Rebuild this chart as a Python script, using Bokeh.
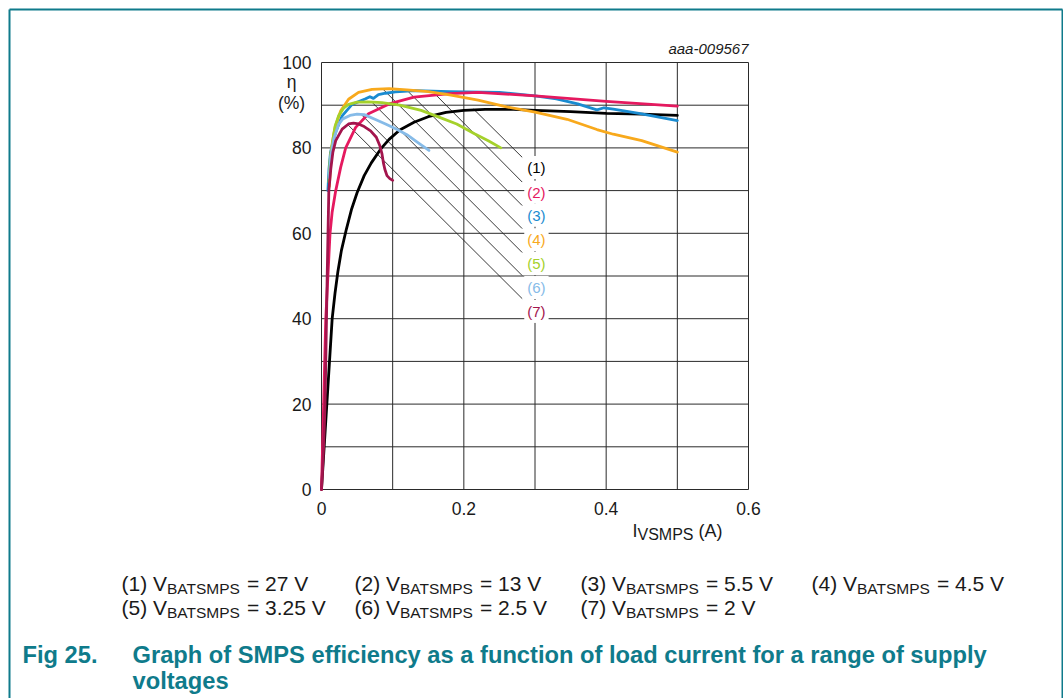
from bokeh.plotting import figure
from bokeh.models import Range1d, Label, ColumnDataSource
from bokeh.embed import file_html
from bokeh.resources import INLINE
from bokeh.core.properties import value

# ---------------- data ----------------
x_tick_values = [0, 0.2, 0.4, 0.6]
x_tick_labels = ["0", "0.2", "0.4", "0.6"]
y_tick_values = [0, 20, 40, 60, 80, 100]
y_tick_labels = ["0", "20", "40", "60", "80", "100"]
x_grid_values = [0, 0.1, 0.2, 0.3, 0.4, 0.5, 0.6]
y_grid_values = [0, 10, 20, 30, 40, 50, 60, 70, 80, 90, 100]

series_ids = ["(1)", "(2)", "(3)", "(4)", "(5)", "(6)", "(7)"]
vbat_labels = ["27 V", "13 V", "5.5 V", "4.5 V", "3.25 V", "2.5 V", "2 V"]

# (1) VBATSMPS = 27 V
i_27 = [0, 0.003, 0.006, 0.009, 0.012, 0.015, 0.019, 0.023, 0.028, 0.035, 0.042,
        0.05, 0.06, 0.07, 0.083, 0.095, 0.11, 0.13, 0.15, 0.175, 0.2, 0.23,
        0.27, 0.3, 0.35, 0.4, 0.45, 0.5]
eff_27 = [0, 8, 16, 24, 32, 40, 46, 51, 56, 61, 65.5,
          69.5, 73.5, 76.5, 79.7, 82, 84.2, 86, 87.3, 88.3, 88.8, 89.0,
          89.0, 88.8, 88.5, 88.1, 87.9, 87.6]
# (2) 13 V
i_13 = [0, 0.003, 0.006, 0.009, 0.012, 0.015, 0.02, 0.027, 0.034, 0.048, 0.066,
        0.095, 0.13, 0.18, 0.22, 0.3, 0.4, 0.5]
eff_13 = [0, 20, 40, 50, 60, 65, 70, 75.5, 80, 84.8, 88,
          90.3, 91.9, 92.7, 93.0, 92.2, 90.9, 89.8]
# (3) 5.5 V
i_55 = [0.009, 0.0105, 0.0126, 0.0197, 0.029, 0.043, 0.062, 0.068, 0.073, 0.08,
        0.09, 0.104, 0.132, 0.18, 0.25, 0.3, 0.33, 0.36, 0.387, 0.397, 0.41, 0.448, 0.5]
eff_55 = [70, 75, 78.9, 83.6, 87.5, 90.2, 91.5, 92.0, 91.6, 92.5,
          92.8, 93.1, 93.4, 93.2, 93.0, 92.2, 91.5, 90.3, 88.9, 89.4, 89.1, 88.0, 86.4]
# (4) 4.5 V
i_45 = [0.011, 0.0125, 0.0136, 0.017, 0.0197, 0.027, 0.038, 0.052, 0.071, 0.095,
        0.12, 0.15, 0.18, 0.22, 0.26, 0.3, 0.345, 0.387, 0.41, 0.45, 0.5]
eff_45 = [71, 75, 79, 83, 85.2, 88.7, 91.4, 93, 93.7, 93.9,
          93.6, 93.2, 92.4, 91.2, 89.6, 88.4, 86.7, 84.3, 83.2, 81.7, 79]
# (5) 3.25 V
i_325 = [0.0105, 0.012, 0.015, 0.019, 0.024, 0.031, 0.038, 0.05, 0.065, 0.085,
         0.11, 0.14, 0.165, 0.19, 0.215, 0.235, 0.252]
eff_325 = [72, 77, 81, 85, 87.5, 89.3, 90.2, 90.7, 90.8, 90.6,
           90.0, 88.8, 87.2, 85.6, 83.3, 81.6, 80.0]
# (6) 2.5 V
i_25 = [0.011, 0.013, 0.017, 0.024, 0.03, 0.04, 0.05, 0.06, 0.075, 0.09,
        0.105, 0.12, 0.135, 0.151]
eff_25 = [73, 78, 82, 85.5, 86.8, 87.6, 87.9, 87.8, 86.7, 85.6,
          84.4, 83.1, 81.3, 79.4]
# (7) 2 V
i_2 = [0, 0.003, 0.005, 0.008, 0.0103, 0.013, 0.016, 0.02, 0.029, 0.038, 0.045,
       0.052, 0.06, 0.069, 0.077, 0.082, 0.085, 0.087, 0.089, 0.092, 0.096, 0.1]
eff_2 = [0, 10, 20, 50, 70, 75, 79, 81.7, 84.4, 85.6, 85.8,
         85.6, 85, 84, 82.5, 80.5, 78.6, 76.5, 75, 73.5, 72.8, 72.4]

currents = [i_27, i_13, i_55, i_45, i_325, i_25, i_2]
efficiencies = [eff_27, eff_13, eff_55, eff_45, eff_325, eff_25, eff_2]

# callout leader lines (data units) and label positions
leader_start_i = [0.2136, 0.159, 0.1218, 0.0867, 0.0703, 0.0548, 0.036]
leader_start_eff = [89.1, 92.7, 93.2, 93.7, 90.8, 88.0, 85.6]
leader_end_i = 0.282
leader_end_eff = [77.8, 72.0, 66.5, 61.1, 55.5, 50.1, 44.7]
callout_i = 0.302
callout_eff = [75.4, 69.6, 64.2, 58.5, 52.9, 47.3, 41.7]

# ---------------- style / layout ----------------
colors = ["#000000", "#e5195f", "#1a8bd0", "#f8a91c", "#a5d12b", "#86bbe8", "#a3154d"]
TEAL = "#0f7b8b"
INK = "#1a1a1a"
FONT = "Liberation Sans"

W, H = 1063, 698
FX0, FX1, FY0, FY1 = 321, 748, 489, 62   # plot area in page pixels


def X(px):
    return (px - FX0) / (FX1 - FX0) * 0.6


def Y(py):
    return (FY0 - py) / (FY0 - FY1) * 100


p = figure(width=W, height=H, x_range=Range1d(X(0), X(W)), y_range=Range1d(Y(H), Y(0)),
           output_backend="svg", toolbar_location=None, min_border=0)
p.xaxis.visible = False
p.yaxis.visible = False
p.xgrid.visible = False
p.ygrid.visible = False
p.outline_line_color = None
p.background_fill_color = "white"
p.border_fill_color = "white"

# grid + plot box
p.segment(x0=x_grid_values, y0=[0] * len(x_grid_values),
          x1=x_grid_values, y1=[100] * len(x_grid_values),
          line_color="#2a2a2a", line_width=1)
p.segment(x0=[0] * len(y_grid_values), y0=y_grid_values,
          x1=[0.6] * len(y_grid_values), y1=y_grid_values,
          line_color="#2a2a2a", line_width=1)

# tick labels
p.text(x=x_tick_values, y=[0] * len(x_tick_values), text=x_tick_labels,
       y_offset=19, text_align="center", text_baseline="middle",
       text_font=value(FONT), text_font_size="17.5px", text_color=INK)
p.text(x=[0] * len(y_tick_values), y=y_tick_values, text=y_tick_labels,
       x_offset=-10, text_align="right", text_baseline="middle",
       text_font=value(FONT), text_font_size="17.5px", text_color=INK)

# leader lines
p.segment(x0=leader_start_i, y0=leader_start_eff,
          x1=[leader_end_i] * len(leader_start_i), y1=leader_end_eff,
          line_color="#222222", line_width=0.9)

# curves
order = [0, 2, 1, 3, 4, 5, 6]
for k in order:
    src = ColumnDataSource(dict(x=currents[k], y=efficiencies[k]))
    p.line("x", "y", source=src, line_color=colors[k], line_width=2.8,
           line_join="round", line_cap="round")

# callout labels
for k in range(7):
    p.add_layout(Label(x=callout_i, y=callout_eff[k], text=series_ids[k],
                       text_align="center", text_baseline="middle",
                       text_font=FONT, text_font_size="15px", text_color=colors[k],
                       background_fill_color="white", padding=3))

ADV = {' ': 278, '(': 333, ')': 333, '=': 584, '.': 278, '-': 333, '%': 889,
       'A': 667, 'B': 667, 'I': 278, 'M': 833, 'P': 667, 'S': 667, 'T': 611, 'V': 667}


def tw(s, size):
    return sum(ADV.get(c, 556) for c in s) / 1000.0 * size


def txt(px, py, s, size, color=INK, style="normal", align="left"):
    # py is the visual middle of the text line
    p.add_layout(Label(x=X(px), y=Y(py), text=s, text_font=FONT,
                       text_font_size=f"{size}px", text_color=color,
                       text_font_style=style, text_align=align,
                       text_baseline="middle"))


def runs(px, py, parts, color=INK):
    x = px
    for s, size, dy in parts:
        lead = len(s) - len(s.lstrip(" "))
        x += tw(" " * lead, size)
        body = s.lstrip(" ")
        txt(x, py + dy, body, size, color)
        x += tw(body, size)


# axis titles / figure id
txt(291, 81, "η", 17.5, align="center")
txt(291, 102, "(%)", 17.5, align="center")
runs(632, 530, [("I", 18, 0), ("VSMPS", 16, 4), (" (A)", 18, 0)])
txt(748, 48, "aaa-009567", 15, style="italic", align="right")

# legend lines
col_x = [121, 354, 580, 811]
row_y = [583, 607]
for k in range(7):
    r, c = divmod(k, 4)
    runs(col_x[c], row_y[r], [(series_ids[k] + " V", 21, 0), ("BATSMPS", 15.5, 5),
                              (" = " + vbat_labels[k], 21, 0)])

# caption
txt(22, 654, "Fig 25.", 23.7, color=TEAL, style="bold")
txt(132, 654, "Graph of SMPS efficiency as a function of load current for a range of supply",
    23.7, color=TEAL, style="bold")
txt(132, 680, "voltages", 23.7, color=TEAL, style="bold")

# page border (teal, open at bottom)
p.segment(x0=[X(9), X(9), X(1062)], y0=[Y(9), Y(9), Y(9)],
          x1=[X(1062), X(9), X(1062)], y1=[Y(9), Y(H + 5), Y(H + 5)],
          line_color=TEAL, line_width=2)

open("out.html", "w").write(file_html(p, INLINE))
